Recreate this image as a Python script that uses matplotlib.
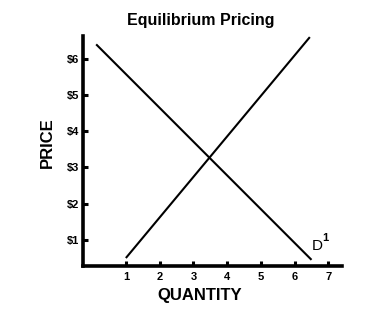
import matplotlib
matplotlib.use("Agg")
import matplotlib.pyplot as plt

# curve end points
demand_q = [0.12, 6.5]
demand_p = [6.4, 0.45]
supply_q = [1.0, 6.45]
supply_p = [0.5, 6.6]

x_ticks = [1, 2, 3, 4, 5, 6, 7]
y_ticks = [1, 2, 3, 4, 5, 6]
y_labels = ["$1", "$2", "$3", "$4", "$5", "$6"]

plt.rcParams['font.family'] = ['Liberation Sans', 'DejaVu Sans']

fig = plt.figure(figsize=(3.83, 3.23), dpi=100)
ax = fig.add_axes([0.2167, 0.1765, 0.676, 0.712])

ax.plot(demand_q, demand_p, color="black", linewidth=1.5, solid_capstyle="butt")
ax.plot(supply_q, supply_p, color="black", linewidth=1.5, solid_capstyle="butt")

ax.set_xlim(-0.27, 7.4)
ax.set_ylim(0.28, 6.63)

for side in ["top", "right"]:
    ax.spines[side].set_visible(False)
for side in ["left", "bottom"]:
    ax.spines[side].set_linewidth(2.6)

ax.set_xticks(x_ticks)
ax.set_xticklabels([str(t) for t in x_ticks], fontsize=8, fontweight="bold")
ax.set_yticks(y_ticks)
ax.set_yticklabels(y_labels, fontsize=8, fontweight="bold")
ax.tick_params(axis="both", direction="in", length=3.5, width=2.2)
ax.tick_params(axis="x", pad=4)
ax.tick_params(axis="y", pad=3)

ax.set_xlabel("QUANTITY", fontsize=12, fontweight="bold")
ax.xaxis.set_label_coords(0.449, -0.095)
ax.set_ylabel("PRICE", fontsize=12, fontweight="bold")
ax.yaxis.set_label_coords(-0.11, 0.535)
fig.text(201 / 383, 1 - 20 / 323, "Equilibrium Pricing", fontsize=11.5,
         fontweight="bold", ha="center", va="center")

ax.text(6.5, 0.64, "D", fontsize=11, ha="left", va="bottom")
ax.text(6.82, 0.92, "1", fontsize=8, fontweight="bold", ha="left", va="bottom")

fig.savefig("out.png", dpi=100)
